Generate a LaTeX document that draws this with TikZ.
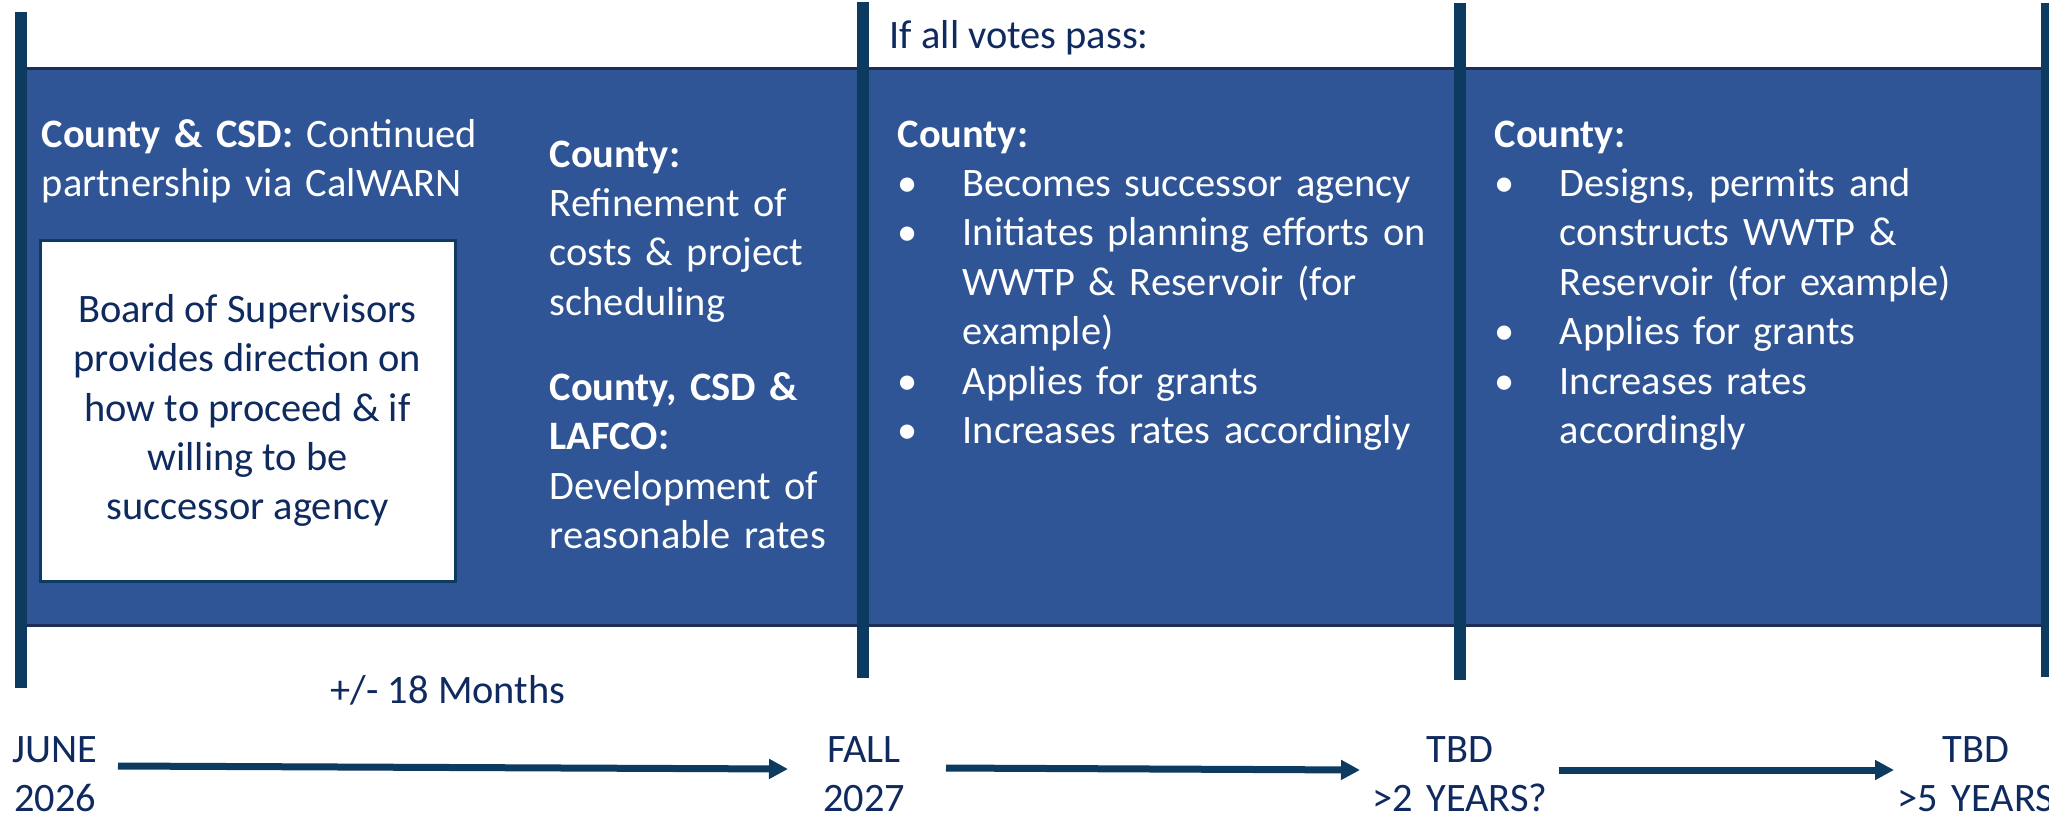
\documentclass[tikz,border=0pt]{standalone}
\usepackage{fontspec}
\setmainfont{Carlito}
\usepackage{xcolor}
\usepackage{tikz}
\usetikzlibrary{arrows.meta}

\definecolor{bandblue}{HTML}{2F5597}
\definecolor{bandedge}{HTML}{1F2D55}
\definecolor{barnavy}{HTML}{0D3A5F}
\definecolor{textnavy}{HTML}{0F2A5E}

\newcommand{\bul}{\makebox[16.25pt][l]{\textbullet}}
\newcommand{\ind}{\hspace*{16.25pt}}

\begin{document}
\begin{tikzpicture}[x=0.25pt, y=-0.25pt,
     font=\fontsize{10.1}{12.35}\selectfont,
     bar/.style={barnavy, line width=3pt},
     phase/.style={anchor=base west, inner sep=0pt, text width=#1, align=left, text=white},
     date/.style={anchor=base, inner sep=0pt, text width=60pt, align=center, text=textnavy},
     timearrow/.style={barnavy, line width=1.75pt, -{Triangle[length=4.75pt, width=4.75pt]}}]
     \path[use as bounding box] (0,0) rectangle (2049,817);
     \clip (0,0) rectangle (2049,817);
     \fill[white] (0,0) rectangle (2049,817);

     \draw[fill=bandblue, draw=bandedge, line width=0.75pt] (21,68.5) rectangle (2060,625);

     \draw[bar] (21,12) -- (21,688);
     \draw[bar] (862.5,2) -- (862.5,678);
     \draw[bar] (1460,3) -- (1460,680);
     \draw[bar] (2047,3) -- (2047,677);

     \node[anchor=base west, inner sep=0pt, text=textnavy] (pass) at (889,48) {If all votes pass:};

     \node[phase=115pt] (partner) at (41,147) {\textbf{County \& CSD:} Continued\\partnership via CalWARN};
     \node[draw=barnavy, line width=0.75pt, fill=white, text=textnavy, align=center,
           minimum width=103.75pt, minimum height=85.25pt, inner sep=0pt] (board) at (247.5,410.5)
           {Board of Supervisors\\provides direction on\\how to proceed \& if\\willing to be\\successor agency};

     \node[phase=80pt] (refine) at (549,167) {\textbf{County:}\\Refinement of\\costs \& project\\scheduling\\[8.9pt]
           \textbf{County, CSD \&}\\\textbf{LAFCO:}\\Development of\\reasonable rates};

     \node[phase=140pt] (succeed) at (897,147) {\textbf{County:}\\\bul Becomes successor agency\\\bul Initiates planning efforts on\\
           \ind WWTP \& Reservoir (for\\\ind example)\\\bul Applies for grants\\\bul Increases rates accordingly};

     \node[phase=130pt] (build) at (1494,147) {\textbf{County:}\\\bul Designs, permits and\\\ind constructs WWTP \&\\
           \ind Reservoir (for example)\\\bul Applies for grants\\\bul Increases rates\\\ind accordingly};

     \node[anchor=base, inner sep=0pt, text=textnavy] (span) at (448,703) {+/- 18 Months};

     \node[date] (june) at (55,762) {JUNE\\2026};
     \node[date] (fall) at (864,762) {FALL\\2027};
     \node[date] (tbd) at (1460,762) {TBD\\>2 YEARS?};
     \node[date] (later) at (1976,762) {TBD\\>5 YEARS};

     \draw[timearrow] ([xshift=15.75pt, yshift=-1pt]june.base) -- ([xshift=-19pt, yshift=-1.75pt]fall.base);
     \draw[timearrow] ([xshift=20.5pt, yshift=-1.5pt]fall.base) -- ([xshift=-25pt, yshift=-2pt]tbd.base);
     \draw[timearrow] ([xshift=24.75pt, yshift=-2pt]tbd.base) -- ([xshift=-20.5pt, yshift=-2pt]later.base);
\end{tikzpicture}
\end{document}
